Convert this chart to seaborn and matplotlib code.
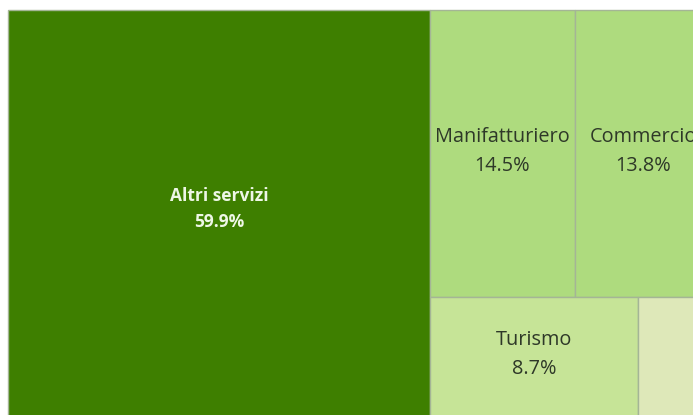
import matplotlib
matplotlib.use("Agg")
import matplotlib.pyplot as plt
from matplotlib.patches import Rectangle
import seaborn as sns

# ---- data ----
categories = ["Altri servizi", "Manifatturiero", "Commercio", "Turismo", "Altro"]
shares = [59.9, 14.5, 13.8, 8.7, 3.1]
labels = ["59.9%", "14.5%", "13.8%", "8.7%", "3.1%"]
colors = ["#3E7F00", "#AEDB7E", "#AEDB7E", "#C6E497", "#DEE8B9"]
text_colors = ["#EEF7E6", "#2E3828", "#2E3828", "#2E3828", "#2E3828"]

sns.set_theme(style="white")
plt.rcParams["font.family"] = ["Open Sans", "DejaVu Sans"]

PHI = (1 + 5 ** 0.5) / 2


def squarify(values, x0, y0, x1, y1, ratio=PHI):
    """d3-style squarified treemap layout; returns list of (x, y, w, h)."""
    rects = [None] * len(values)
    value = float(sum(values))
    n = len(values)
    i0 = i1 = 0
    while i0 < n:
        dx, dy = x1 - x0, y1 - y0
        s = values[i1]
        i1 += 1
        mn = mx = s
        alpha = max(dy / dx, dx / dy) / (value * ratio)
        beta = s * s * alpha
        min_ratio = max(mx / beta, beta / mn)
        while i1 < n:
            v = values[i1]
            s2 = s + v
            mn2, mx2 = min(mn, v), max(mx, v)
            beta = s2 * s2 * alpha
            nr = max(mx2 / beta, beta / mn2)
            if nr > min_ratio:
                break
            s, mn, mx, min_ratio = s2, mn2, mx2, nr
            i1 += 1
        row = list(range(i0, i1))
        if dx < dy:  # dice: row across the top
            h = dy * s / value
            cx = x0
            for k in row:
                w = dx * values[k] / s
                rects[k] = (cx, y0, w, h)
                cx += w
            y0 += h
        else:  # slice: column on the left
            w = dx * s / value
            cy = y0
            for k in row:
                h = dy * values[k] / s
                rects[k] = (x0, cy, w, h)
                cy += h
            x0 += w
        value -= s
        i0 = i1
    return rects


FW, FH = 693, 415
W, H = 704.5, 406.7   # full treemap extent (cropped on the right in the reference)
LEFT, TOP = 8, 10

fig = plt.figure(figsize=(FW / 100, FH / 100), dpi=100)
fig.patch.set_facecolor("white")
ax = fig.add_axes([LEFT / FW, (FH - TOP - H) / FH, W / FW, H / FH])
ax.set_xlim(0, W)
ax.set_ylim(H, 0)
ax.axis("off")

rects = squarify(shares, 0, 0, W, H)
for i, (x, y, w, h) in enumerate(rects):
    ax.add_patch(Rectangle((x, y), w, h, facecolor=colors[i],
                           edgecolor="#A4B596", linewidth=1.0, clip_on=False))
    if w < 100:
        continue
    cx, cy = x + w / 2, y + h / 2
    if i == 0:
        ax.text(cx, cy - 12.5, categories[i], ha="center", va="baseline",
                fontsize=12.5, fontweight="bold", color=text_colors[i])
        ax.text(cx, cy + 13.5, labels[i], ha="center", va="baseline",
                fontsize=12.5, fontweight="bold", color=text_colors[i])
    else:
        ax.text(cx, cy - 11.5, categories[i], ha="center", va="baseline",
                fontsize=14.3, color=text_colors[i], clip_on=False)
        ax.text(cx, cy + 17, labels[i], ha="center", va="baseline",
                fontsize=14.3, color=text_colors[i], clip_on=False)

fig.savefig("out.png", dpi=100, facecolor="white")
